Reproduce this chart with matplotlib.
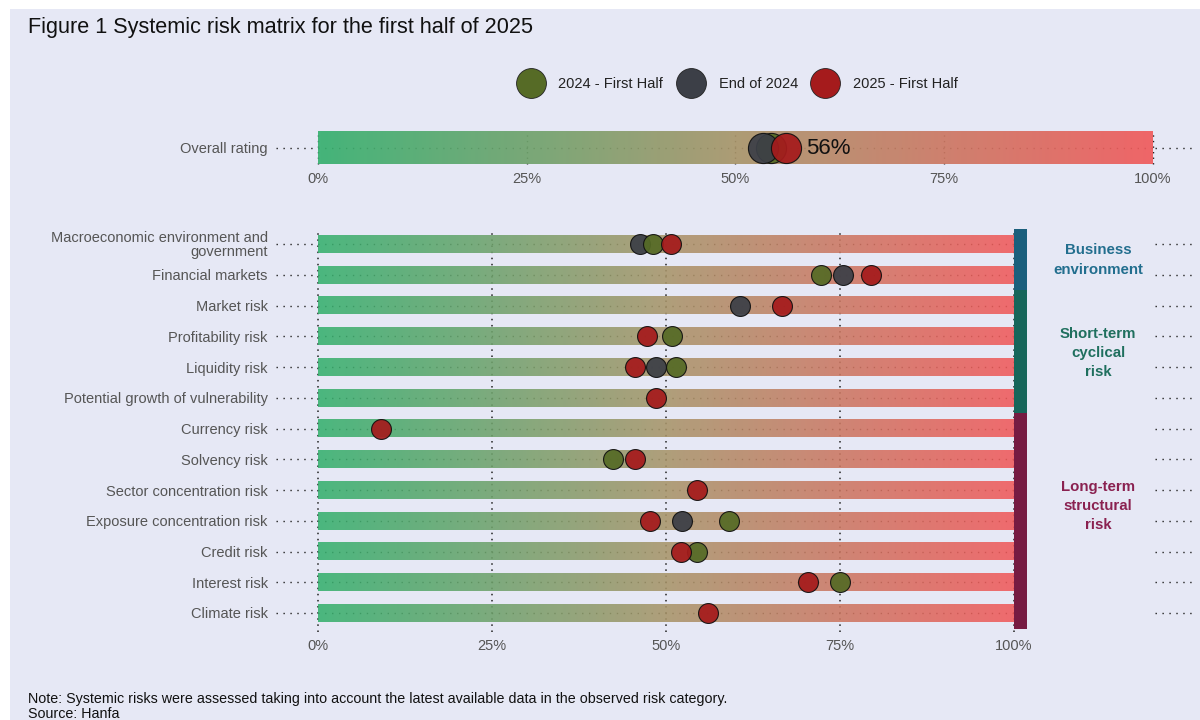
import matplotlib
matplotlib.use("Agg")
import matplotlib.pyplot as plt
import numpy as np
from matplotlib.colors import LinearSegmentedColormap
from matplotlib.patches import Rectangle
from matplotlib.lines import Line2D

plt.rcParams['font.family'] = ['Liberation Sans', 'DejaVu Sans']

# ---- data ----
risks = ["Macroeconomic environment and\ngovernment", "Financial markets", "Market risk",
         "Profitability risk", "Liquidity risk", "Potential growth of vulnerability",
         "Currency risk", "Solvency risk", "Sector concentration risk",
         "Exposure concentration risk", "Credit risk", "Interest risk", "Climate risk"]
h1_2024 = [48.2, 72.3, np.nan, 50.9, 51.5, np.nan, np.nan, 42.4, np.nan, 59.1, 54.5, 75.0, np.nan]
end_2024 = [46.3, 75.4, 60.6, np.nan, 48.5, np.nan, np.nan, np.nan, np.nan, 52.3, np.nan, np.nan, np.nan]
h1_2025 = [50.7, 79.5, 66.6, 47.3, 45.5, 48.5, 9.1, 45.5, 54.5, 47.7, 52.2, 70.4, 56.1]

overall = {"2024 - First Half": 54.3, "End of 2024": 53.3, "2025 - First Half": 56.1}
overall_label = "56%"

groups = ["Business\nenvironment", "Short-term\ncyclical\nrisk", "Long-term\nstructural\nrisk"]
group_rows = [(0, 1), (2, 5), (6, 12)]
group_label_y = [0.52, 3.55, 8.52]
group_colors = ["#1b5f7c", "#17665a", "#761b42"]
group_text = ["#226e8e", "#1f6f5e", "#8a2150"]

ticks = [0, 25, 50, 75, 100]
tick_labels = ["0%", "25%", "50%", "75%", "100%"]

legend_names = ["2024 - First Half", "End of 2024", "2025 - First Half"]
series_colors = {"2024 - First Half": "#566b26", "End of 2024": "#3c3f47", "2025 - First Half": "#a51b1c"}

# ---- figure ----
W, H = 1200, 720
fig = plt.figure(figsize=(12, 7.2), dpi=100)
fig.patch.set_facecolor("white")
bg = "#e6e8f5"
fig.patches.append(Rectangle((10 / W, 0), 1 - 10 / W, 1 - 9 / H, transform=fig.transFigure,
                             facecolor=bg, edgecolor="none", zorder=-10))

cmap = LinearSegmentedColormap.from_list("risk", ["#36b06f", "#a8956a", "#f05a5b"])
grad = np.linspace(0, 1, 256).reshape(1, -1)
txt_col = "#555555"
fs = 10.5


def px_axes(x0, y0, x1, y1):
    return fig.add_axes([x0 / W, 1 - y1 / H, (x1 - x0) / W, (y1 - y0) / H])


# ---- overall rating ----
axo = px_axes(276, 126, 1192, 170)
axo.set_facecolor("none")
axo.set_xlim((276 - 318) / 8.35, (1192 - 318) / 8.35)
axo.set_ylim(-0.5, 0.5)
axo.imshow(grad, cmap=cmap, extent=[0, 100, -0.37, 0.37], aspect="auto", alpha=0.92, zorder=2)
axo.plot([axo.get_xlim()[0], 100], [0, 0], color="#222222", lw=1, ls=(0, (1, 4)), zorder=1)
axo.plot([100.2, axo.get_xlim()[1]], [0, 0], color="#222222", lw=1, ls=(0, (1, 4)), zorder=1)
for t in ticks:
    axo.plot([t, t], [-0.37, 0.37], color="#222222", lw=1, ls=(0, (1, 3)), zorder=1)
for name in ["2024 - First Half", "End of 2024", "2025 - First Half"]:
    axo.scatter(overall[name], 0, s=470, color=series_colors[name], edgecolor="#111111",
                linewidth=0.8, alpha=0.93, zorder=4)
axo.text(overall["2025 - First Half"] + 2.3, 0, overall_label, va="center", ha="left",
         fontsize=16, color="#111111", zorder=5)
axo.set_xticks(ticks)
axo.set_xticklabels(tick_labels, fontsize=fs, color=txt_col)
axo.set_yticks([0])
axo.set_yticklabels(["Overall rating"], fontsize=fs, color=txt_col)
axo.tick_params(length=0, pad=6)
axo.tick_params(axis="x", pad=1.5)
for s in axo.spines.values():
    s.set_visible(False)

# ---- risk matrix ----
ax = px_axes(276, 229, 1192, 632)
ax.set_facecolor("none")
ppu = 6.96
xl = ((276 - 318) / ppu, (1192 - 318) / ppu)
ax.set_xlim(*xl)
ax.set_ylim(12 + (632 - 613) / 30.75, -(244 - 229) / 30.75)
n = len(risks)
bh = 0.58
for i in range(n):
    ax.imshow(grad, cmap=cmap, extent=[0, 100, i + bh / 2, i - bh / 2], aspect="auto",
              alpha=0.88, zorder=2)
    ax.plot([xl[0], 100], [i, i], color="#222222", lw=1, ls=(0, (1, 4)), zorder=1)
    ax.plot([(1155 - 318) / ppu, xl[1]], [i, i], color="#222222", lw=1, ls=(0, (1, 4)), zorder=1)
for t in ticks:
    ax.plot([t, t], list(ax.get_ylim()), color="#222222", lw=1.1, ls=(0, (1, 3)), zorder=1)

rows = np.arange(n)
data = {"2024 - First Half": h1_2024, "End of 2024": end_2024, "2025 - First Half": h1_2025}
for name in ["End of 2024", "2024 - First Half", "2025 - First Half"]:
    ax.scatter(data[name], rows, s=205, color=series_colors[name], edgecolor="#111111",
               linewidth=0.8, alpha=0.93, zorder=4)

# group side bars
gx0, gx1 = 100, (1027 - 318) / ppu
ylim = ax.get_ylim()
for k, (name, (r0, r1), c, tc, ly) in enumerate(zip(groups, group_rows, group_colors,
                                                     group_text, group_label_y)):
    top = ylim[1] if k == 0 else r0 - 0.5
    bot = r1 + 0.52
    ax.add_patch(Rectangle((gx0, top), gx1 - gx0, bot - top, facecolor=c, edgecolor="none", zorder=3))
    ax.text((1098 - 318) / ppu, ly, name, ha="center", va="center", fontsize=10.8,
            fontweight="bold", color=tc, linespacing=1.48)

ax.set_xticks(ticks)
ax.set_xticklabels(tick_labels, fontsize=fs, color=txt_col)
ax.set_yticks(rows)
ax.set_yticklabels(risks, fontsize=fs, color=txt_col, linespacing=0.95)
ax.tick_params(length=0, pad=6)
ax.tick_params(axis="x", pad=5)
for s in ax.spines.values():
    s.set_visible(False)

# ---- title, legend, notes ----
fig.text(28 / W, 1 - 27 / H, "Figure 1 Systemic risk matrix for the first half of 2025",
         fontsize=15.6, color="#111111", va="center", ha="left")

handles = [Line2D([], [], ls="none", marker="o", markersize=21.5, markerfacecolor=series_colors[nm],
                  markeredgecolor="#222222", markeredgewidth=0.6)
           for nm in legend_names]
fig.legend(handles, legend_names, ncol=3,
           loc="center", bbox_to_anchor=(737 / W, 1 - 84 / H), frameon=False, fontsize=fs,
           handletextpad=0.9, columnspacing=0.9, labelcolor="#222222")

fig.text(28 / W, 1 - 699 / H,
         "Note: Systemic risks were assessed taking into account the latest available data in the observed risk category.",
         fontsize=10.3, color="#111111", va="center", ha="left")
fig.text(28 / W, 1 - 714 / H, "Source: Hanfa", fontsize=10.3, color="#111111", va="center", ha="left")

fig.savefig("out.png", dpi=100, facecolor=fig.get_facecolor())
